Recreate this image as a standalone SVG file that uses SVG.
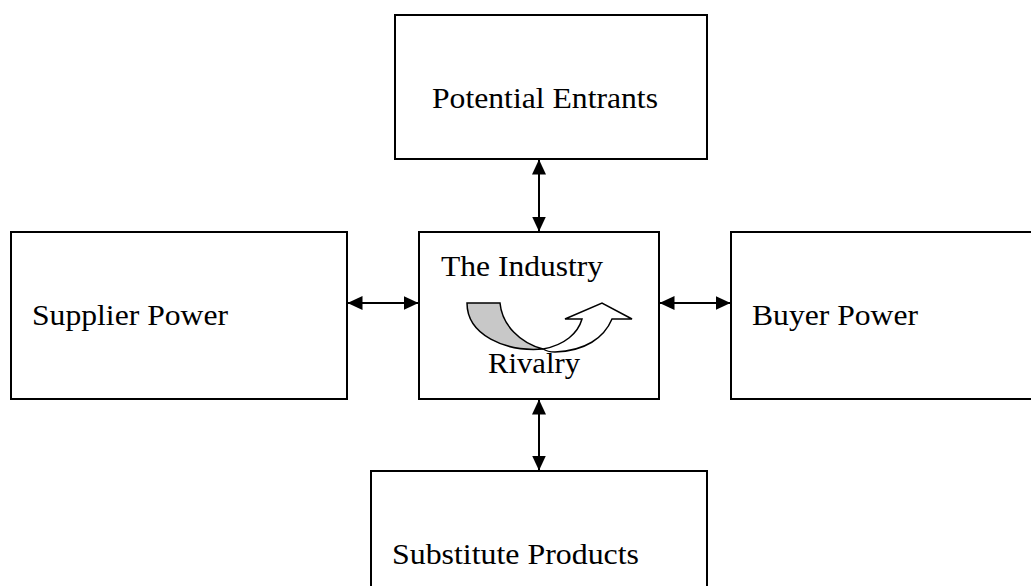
<svg xmlns="http://www.w3.org/2000/svg" width="1031" height="586" viewBox="0 0 1031 586">
<defs>
<marker id="ah" viewBox="0 0 15 14" refX="14.5" refY="7" markerWidth="15" markerHeight="14" markerUnits="userSpaceOnUse" orient="auto-start-reverse">
<path d="M0,0 L15,7 L0,14 Z" fill="#000"/>
</marker>
</defs>
<style>
.box{fill:#fff;stroke:#000;stroke-width:2}
.t{font-family:"Liberation Serif","Times New Roman",serif;font-size:30px;fill:#000}
.c{stroke:#000;stroke-width:2;fill:none;marker-start:url(#ah);marker-end:url(#ah)}
</style>
<rect width="1031" height="586" fill="#fff"/>
<g id="potential-entrants">
<rect class="box" x="395" y="15" width="312" height="144"/>
<text class="t" x="432" y="108" textLength="226" lengthAdjust="spacingAndGlyphs">Potential Entrants</text>
</g>
<g id="supplier-power">
<rect class="box" x="11" y="232" width="336" height="167"/>
<text class="t" x="32" y="325" textLength="196" lengthAdjust="spacingAndGlyphs">Supplier Power</text>
</g>
<g id="industry">
<rect class="box" x="419" y="232" width="240" height="167"/>
<text class="t" x="441" y="276" textLength="162" lengthAdjust="spacingAndGlyphs">The Industry</text>
<path d="M467,303 L500,303 C502,325 520,343 543,349 C505,352 467,335 467,303 Z" fill="#c8c8c8" stroke="#000" stroke-width="1.5"/>
<path d="M543,349 C565,345 578,333 582,319 L565,319 L602,303 L632,319 L612,319 C604,338 585,351 555,352 C550,352 546,351 543,349 Z" fill="#fff" stroke="#000" stroke-width="1.5"/>
<text class="t" x="488" y="373" textLength="92" lengthAdjust="spacingAndGlyphs">Rivalry</text>
</g>
<g id="buyer-power">
<rect class="box" x="731" y="232" width="310" height="167"/>
<text class="t" x="752" y="325" textLength="166" lengthAdjust="spacingAndGlyphs">Buyer Power</text>
</g>
<g id="substitute-products">
<rect class="box" x="371" y="471" width="336" height="130"/>
<text class="t" x="392" y="564" textLength="247" lengthAdjust="spacingAndGlyphs">Substitute Products</text>
</g>
<g id="connectors">
<line class="c" x1="539" y1="160" x2="539" y2="231"/>
<line class="c" x1="539" y1="400" x2="539" y2="470"/>
<line class="c" x1="348" y1="303" x2="418" y2="303"/>
<line class="c" x1="660" y1="303" x2="730" y2="303"/>
</g>
</svg>
